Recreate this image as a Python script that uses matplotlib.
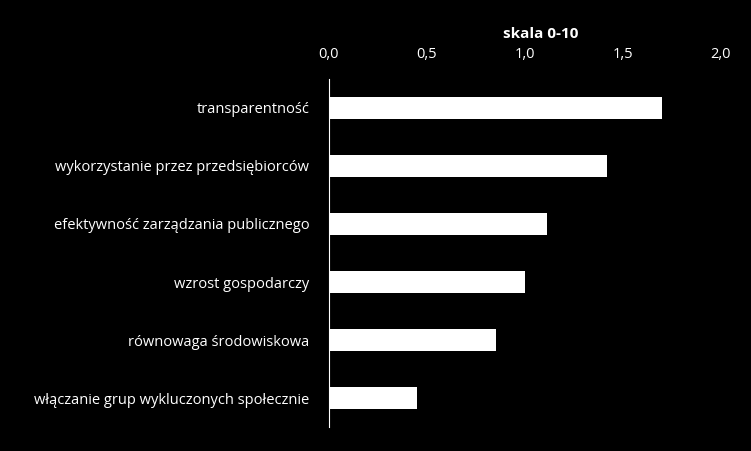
import matplotlib.pyplot as plt

categories = [
    "transparentność",
    "wykorzystanie przez przedsiębiorców",
    "efektywność zarządzania publicznego",
    "wzrost gospodarczy",
    "równowaga środowiskowa",
    "włączanie grup wykluczonych społecznie",
]
values = [1.70, 1.42, 1.11, 1.00, 0.85, 0.45]
ticks = [0.0, 0.5, 1.0, 1.5, 2.0]
tick_labels = ["0,0", "0,5", "1,0", "1,5", "2,0"]

plt.rcParams["font.family"] = ["Open Sans", "DejaVu Sans"]
fig = plt.figure(figsize=(7.51, 4.51), dpi=100, facecolor="black")
ax = fig.add_axes([0.438, 0.053, 0.522, 0.772], facecolor="black")

ypos = list(range(len(categories)))
ax.barh(ypos, values, height=0.38, color="white")
ax.set_ylim(len(categories) - 0.5, -0.5)
ax.set_xlim(0, 2.0)
ax.set_yticks(ypos)
ax.set_yticklabels(categories, color="white", fontsize=10.5)
ax.xaxis.tick_top()
ax.set_xticks(ticks)
ax.set_xticklabels(tick_labels, color="white", fontsize=10.5)
ax.tick_params(axis="both", length=0, pad=14)
ax.tick_params(axis="y", pad=14)
ax.tick_params(axis="x", pad=12)
for s in ["top", "right", "bottom"]:
    ax.spines[s].set_visible(False)
ax.spines["left"].set_color("white")
fig.text(0.72, 0.925, "skala 0-10", color="white", fontsize=11,
         fontweight="bold", ha="center", va="center")

fig.savefig("out.png", dpi=100, facecolor="black")
